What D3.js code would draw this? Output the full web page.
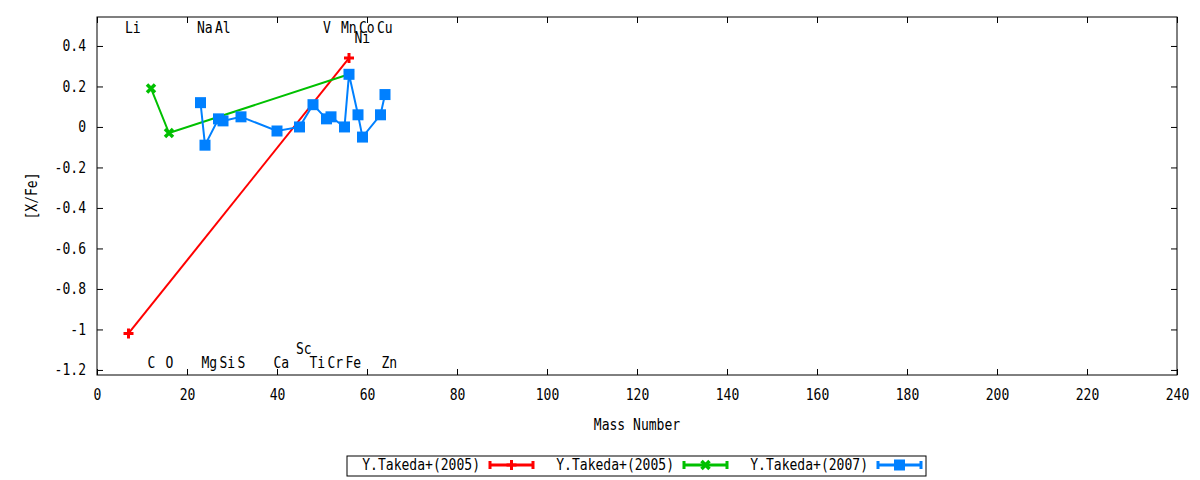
<!DOCTYPE html>
<html>
<head>
<meta charset="utf-8">
<script src="https://d3js.org/d3.v7.min.js"></script>
<style>
  body { margin: 0; background: #fff; }
  text { font-family: "DejaVu Sans Mono", monospace; font-size: 15px; fill: #000; }
</style>
</head>
<body>
<div id="chart"></div>
<script>
// series: Y.Takeda+(2005) red, Y.Takeda+(2005) green, Y.Takeda+(2007) blue
var redMass = [7, 56];
var redVal = [-1.02, 0.34];

var greenMass = [12, 16, 56];
var greenVal = [0.19, -0.03, 0.26];

var blueMass = [23, 24, 27, 28, 32, 40, 45, 48, 51, 52, 55, 56, 58, 59, 63, 64];
var blueVal = [0.12, -0.09, 0.04, 0.03, 0.05, -0.02, 0.00, 0.11, 0.04, 0.05, 0.00, 0.26, 0.06, -0.05, 0.06, 0.16];

var seriesNames = ["Y.Takeda+(2005)", "Y.Takeda+(2005)", "Y.Takeda+(2007)"];

// element labels along top and bottom of the plot
var elemNames = ["Li", "C", "O", "Na", "Mg", "Al", "Si", "S", "Ca", "Sc", "Ti", "V", "Cr", "Mn", "Fe", "Co", "Ni", "Cu", "Zn"];
var elemMass = [7, 12, 16, 23, 24, 27, 28, 32, 40, 45, 48, 51, 52, 55, 56, 59, 58, 63, 64];
var elemRow = ["top", "bot", "bot", "top", "bot", "top", "bot", "bot", "bot", "bot2", "bot", "top", "bot", "top", "bot", "top", "top2", "top", "bot"];

var xTicks = [0, 20, 40, 60, 80, 100, 120, 140, 160, 180, 200, 220, 240];
var yTicks = [-1.2, -1, -0.8, -0.6, -0.4, -0.2, 0, 0.2, 0.4];

draw_chart();

function draw_chart() {
    var W = 1200, H = 480;
    var pl = 97, pr = 1177, pt = 17, pb = 375;
    var SX = 0.87; // gnuplot font is narrower than DejaVu Sans Mono

    var svg = d3.select("#chart").append("svg")
        .attr("width", W)
        .attr("height", H)
        .style("background-color", "white");

    var x = d3.scaleLinear().domain([0, 240]).range([pl, pr]);
    var y = d3.scaleLinear().domain([-1.225, 0.543]).range([pb, pt]);

    function squeeze(sel) {
        sel.each(function() {
            var t = d3.select(this);
            var tx = +t.attr("x") || 0;
            t.attr("x", tx / SX).attr("transform", "scale(" + SX + ",1)");
        });
    }

    function fmt(d) { return String(+d.toFixed(1)); }

    // axes with inward ticks, mirrored
    var gx = svg.append("g").attr("transform", "translate(0," + pb + ")")
        .call(d3.axisBottom(x).tickValues(xTicks).tickFormat(fmt).tickSize(-6).tickPadding(14));
    var gy = svg.append("g").attr("transform", "translate(" + pl + ",0)")
        .call(d3.axisLeft(y).tickValues(yTicks).tickFormat(fmt).tickSize(-6).tickPadding(11));
    svg.append("g").attr("transform", "translate(0," + pt + ")")
        .call(d3.axisTop(x).tickValues(xTicks).tickFormat("").tickSize(-6));
    svg.append("g").attr("transform", "translate(" + pr + ",0)")
        .call(d3.axisRight(y).tickValues(yTicks).tickFormat("").tickSize(-6));

    svg.selectAll(".domain").remove();
    svg.selectAll(".tick line").attr("stroke", "#000");
    svg.selectAll(".tick text")
        .style("font-family", "DejaVu Sans Mono")
        .style("font-size", "15px")
        .attr("fill", "#000");
    gx.selectAll(".tick text").call(squeeze);
    gy.selectAll(".tick text").call(squeeze);

    svg.append("rect")
        .attr("x", pl).attr("y", pt)
        .attr("width", pr - pl).attr("height", pb - pt)
        .attr("fill", "none").attr("stroke", "#000").attr("stroke-width", 1);

    // axis titles
    svg.append("g").attr("transform", "translate(" + ((pl + pr) / 2) + ",430)")
        .append("text").attr("text-anchor", "middle").attr("transform", "scale(" + SX + ",1)")
        .text("Mass Number");
    svg.append("g").attr("transform", "translate(37," + ((pt + pb) / 2) + ") rotate(-90)")
        .append("text").attr("text-anchor", "middle").attr("transform", "scale(" + SX + ",1)")
        .text("[X/Fe]");

    // element labels
    var rowY = { top: 0.49, top2: 0.44, bot: -1.165, bot2: -1.095 };
    var labels = svg.append("g").attr("class", "elements")
        .selectAll("g")
        .data(elemNames.map(function(n, i) { return { name: n, mass: elemMass[i], row: elemRow[i] }; }))
        .enter()
        .append("g")
        .attr("transform", function(d) {
            return "translate(" + (x(d.mass) - 3.5) + "," + y(rowY[d.row]) + ")";
        });
    labels.append("text")
        .attr("dy", "0.36em")
        .attr("text-anchor", "start")
        .attr("transform", "scale(" + SX + ",1)")
        .text(function(d) { return d.name; });

    // markers
    function plus(g, c) {
        g.append("path").attr("d", "M-5,0H5M0,-5V5")
            .attr("stroke", c).attr("stroke-width", 3).attr("fill", "none");
    }
    function cross(g, c) {
        g.append("path").attr("d", "M-4,-4L4,4M-4,4L4,-4")
            .attr("stroke", c).attr("stroke-width", 3.5).attr("fill", "none");
    }
    function square(g, c) {
        g.append("rect").attr("x", -5.5).attr("y", -5.5).attr("width", 11).attr("height", 11)
            .attr("fill", c);
    }

    var series = [
        { mass: redMass, val: redVal, color: "#ff0000", mark: plus },
        { mass: greenMass, val: greenVal, color: "#00c000", mark: cross },
        { mass: blueMass, val: blueVal, color: "#0080ff", mark: square }
    ];

    var line = d3.line()
        .x(function(d) { return x(d[0]); })
        .y(function(d) { return y(d[1]); });

    series.forEach(function(s) {
        var pts = s.mass.map(function(m, i) { return [m, s.val[i]]; });
        var g = svg.append("g");
        g.append("path").datum(pts)
            .attr("d", line)
            .attr("fill", "none")
            .attr("stroke", s.color)
            .attr("stroke-width", 2);
        g.selectAll("g.pt").data(pts).enter().append("g")
            .attr("class", "pt")
            .attr("transform", function(d) { return "translate(" + x(d[0]) + "," + y(d[1]) + ")"; })
            .each(function() { s.mark(d3.select(this), s.color); });
    });

    // legend
    var legend = svg.append("g").attr("class", "legend");
    legend.append("rect")
        .attr("x", 347).attr("y", 456).attr("width", 579).attr("height", 20)
        .attr("fill", "none").attr("stroke", "#000").attr("stroke-width", 1);

    var textEnd = [480, 674, 868];
    series.forEach(function(s, i) {
        legend.append("g").attr("transform", "translate(" + textEnd[i] + ",470)")
            .append("text").attr("text-anchor", "end").attr("transform", "scale(" + SX + ",1)")
            .text(seriesNames[i]);
        var x0 = textEnd[i] + 10, x1 = textEnd[i] + 53, yl = 465;
        legend.append("path")
            .attr("d", "M" + x0 + "," + yl + "H" + x1 + "M" + x0 + "," + (yl - 4) + "V" + (yl + 4) + "M" + x1 + "," + (yl - 4) + "V" + (yl + 4))
            .attr("stroke", s.color).attr("stroke-width", 3).attr("fill", "none");
        var m = legend.append("g").attr("transform", "translate(" + ((x0 + x1) / 2) + "," + yl + ")");
        s.mark(m, s.color);
    });
}
</script>
</body>
</html>
